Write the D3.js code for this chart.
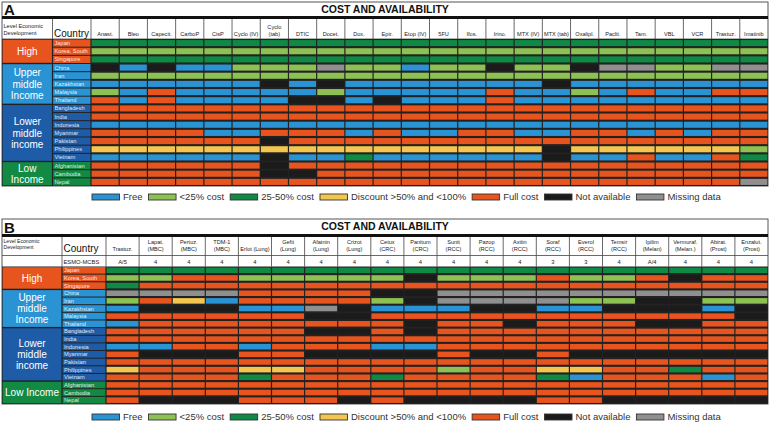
<!DOCTYPE html>
<html><head><meta charset="utf-8">
<script src="https://cdn.jsdelivr.net/npm/d3@7"></script>
<style>body{margin:0;background:#fff}svg{display:block}text{font-family:"Liberation Sans",Arial,sans-serif}</style>
</head><body><svg id="c" width="770" height="422"></svg>
<script>
const countries = ["Japan","Korea, South","Singapore","China","Iran","Kazakhstan","Malaysia","Thailand","Bangladesh","India","Indonesia","Myanmar","Pakistan","Philippines","Vietnam","Afghanistan","Cambodia","Nepal"];
const levelSizes = [3,5,7,3];
const levelNamesA = [["High"],["Upper","middle","Income"],["Lower","middle","income"],["Low","Income"]];
const levelNamesB = [["High"],["Upper","middle","Income"],["Lower","middle","income"],["Low Income"]];
const drugsA = [["Anast."],["Bleo"],["Capecit."],["CarboP"],["CisP"],["Cyclo (IV)"],["Cyclo","(tab)"],["DTIC"],["Docet."],["Dox."],["Epir."],["Etop (IV)"],["5FU"],["Ifos."],["Irino."],["MTX (IV)"],["MTX (tab)"],["Oxalipl."],["Paclit."],["Tam."],["VBL"],["VCR"],["Trastuz."],["Imatinib"]];
// F free, L <25%, D 25-50%, Y discount, C full cost, N not available, M missing
const statusA = [
"DDDDDDDDDDDDDDDDDDDDDDDD",
"LLLLLLLLLLLLLLLLLLLLLLLL",
"DDDDDDDDDDDDDDDDDDDDDDDD",
"NFNFFLLLMLLFLLNLLNMMLLMM",
"LLLLLLLLLLLLLLLLLLLLLLLL",
"FFFFFFNFNFFFFFFFNFFFFFFF",
"LFCFFFFFLFFFFFCFFLFCFFCC",
"CFCFFFFNNFNFFFCFFFFFFFFF",
"CCCCCCCCCCCCCCCCCCCCCCCC",
"CCCCCCCCCCCCCCCCCCCCCCCC",
"FFFFFFFFFFFFFFFFFFFFFFFF",
"CCCCFFCCCFCFFCCFFCCFCFCC",
"CCCCCCNCCCCCCCCCCCCCCCCC",
"YYYYYYYYYYYYYYYYNYYYYYYL",
"FFFFFFNFFDFFFFFFNFFCFFCD",
"CCCCCCNCCCCCCCCCCCCCCCCC",
"CCCCCCNNCCCCCCCCCCCCCCCC",
"CCCCCCCCCCCCCCCCCCCCCCCM"];
const drugsB = [["Trastuz."],["Lapat.","(MBC)"],["Pertuz.","(MBC)"],["TDM-1","(MBC)"],["Erlot (Lung)"],["Gefit","(Lung)"],["Afatnin","(Lung)"],["Crizot","(Lung)"],["Cetux","(CRC)"],["Panitum","(CRC)"],["Sunit","(RCC)"],["Pazop","(RCC)"],["Axitin","(RCC)"],["Soraf","(RCC)"],["Everol","(RCC)"],["Temsir","(RCC)"],["Ipilim","(Melan)"],["Vermuraf.","(Melan.)"],["Abirat.","(Prost)"],["Enzalut.","(Prost)"]];
const esmoB = ["A/5","4","4","4","4","4","4","4","4","4","4","4","4","3","3","4","A/4","4","4","4"];
const statusB = [
"DDDDDDDDDDDDDDDDDDDD",
"LLCCLLLLLNLLLCLLCNCC",
"DCCCCCCCCCCCCCCCCCCC",
"MMMMCCCCNNMMMMMMMMMM",
"LCYFCCCCLNMMMMLLNNLL",
"FNNNFFMNFFFNNFFNNNFN",
"CCCCCCNNCCCCCCCCCCCN",
"FCCCCCCCCNCCNCCCNNCC",
"CCCCCCNNCNCCCCCCCCCC",
"CCCCCCCCCCCCCCCCCCCC",
"FFCCFCCCFFCCCCCCCCCC",
"CNNNCCNNNNCNNCNNNNNN",
"CCCCCCCCCCCCCCCCCCCC",
"YCCCYYCCCCLCCYYCCDCC",
"CCCCDCCCDCCCCDFCCCFC",
"CCCCCCCCCCCCCCCCCCCC",
"CCCCCCCCCCCCCCCCCCCC",
"CNNNCCCNCNNNNCCNNNNN"];
const legendCodes = ["F","L","D","Y","C","N","M"];
const legendLabels = ["Free","<25% cost","25-50% cost","Discount >50% and <100%","Full cost","Not available","Missing data"];

const colors = {F:"#2a93d3",L:"#8dc153",D:"#0f8a44",Y:"#f5c64f",C:"#e8541e",N:"#1b1b1b",M:"#8f8f8f"};
const groupColors = ["#e8541e","#2a93d3","#1f5ca8","#138a43"];
const groupOf = [];
levelSizes.forEach((n,gi)=>{for(let k=0;k<n;k++)groupOf.push(gi);});

const svg = d3.select("#c");

function drawPanel(cfg){
  const g = svg.append("g");
  const x = d3.scaleBand().domain(cfg.drugs.map((d,i)=>i)).range([cfg.gridX0,768]);
  const y = d3.scaleBand().domain(countries).range([cfg.rowsTop,cfg.rowsBottom]);
  g.append("rect").attr("x",2).attr("y",cfg.top).attr("width",766).attr("height",cfg.rowsBottom-cfg.top)
    .attr("fill","#fff").attr("stroke","#555").attr("stroke-width",1);
  g.append("rect").attr("x",2).attr("y",cfg.bandY).attr("width",766).attr("height",3).attr("fill","#111");
  g.append("text").attr("x",4).attr("y",cfg.bandY-1).attr("font-size",15).attr("font-weight","bold").attr("fill","#111").text(cfg.letter);
  g.append("text").attr("x",385).attr("y",cfg.top+11).attr("text-anchor","middle").attr("font-size",10.5).attr("font-weight","bold").attr("fill","#111").text("COST AND AVAILABILITY");
  const hTop = cfg.bandY+3, hBot = cfg.rowsTop;
  const vx = [cfg.countryX0, ...x.domain().map(i=>x(i))];
  g.selectAll(null).data(vx).join("line").attr("x1",d=>d).attr("x2",d=>d).attr("y1",hTop).attr("y2",hBot)
    .attr("stroke","#444").attr("stroke-width",0.8);
  g.append("line").attr("x1",2).attr("x2",768).attr("y1",cfg.headerBottom).attr("y2",cfg.headerBottom).attr("stroke","#444").attr("stroke-width",0.8);
  g.selectAll(null).data(cfg.levLines).join("text").attr("x",3.5).attr("y",(d,i)=>cfg.levY+i*cfg.levDy)
    .attr("font-size",cfg.levFs).attr("fill","#222").text(d=>d);
  g.append("text").attr("x",cfg.countryX0+1.5).attr("y",cfg.countryY).attr("font-size",10).attr("fill","#111").text("Country");
  cfg.drugs.forEach((lines,i)=>{
    const cx = x(i)+x.bandwidth()/2;
    lines.forEach((t,k)=>{
      const yy = lines.length===1 ? cfg.drugY2 : (k===0?cfg.drugY1:cfg.drugY2);
      g.append("text").attr("x",cx).attr("y",yy).attr("text-anchor","middle").attr("font-size",5.6).attr("fill","#222").text(t);
    });
  });
  if(cfg.esmo){
    g.append("text").attr("x",cfg.countryX0+1.5).attr("y",cfg.esmoY).attr("font-size",5.8).attr("fill","#222").text("ESMO-MCBS");
    g.selectAll(null).data(cfg.esmo).join("text").attr("x",(d,i)=>x(i)+x.bandwidth()/2).attr("y",cfg.esmoY)
      .attr("text-anchor","middle").attr("font-size",5.8).attr("fill","#222").text(d=>d);
  }
  g.append("rect").attr("x",2).attr("y",cfg.rowsTop).attr("width",766).attr("height",cfg.rowsBottom-cfg.rowsTop).attr("fill","#222");
  let start=0;
  levelSizes.forEach((n,gi)=>{
    const y0=y(countries[start]), y1=y(countries[start+n-1])+y.bandwidth();
    g.append("rect").attr("x",2.6).attr("y",y0+0.7).attr("width",cfg.countryX0-2.6-0.6).attr("height",y1-y0-1.4).attr("fill",groupColors[gi]);
    const lines = cfg.levelNames[gi];
    const cy=(y0+y1)/2, lh=11.2;
    lines.forEach((t,k)=>{
      g.append("text").attr("x",(2+cfg.countryX0)/2).attr("y",cy+(k-(lines.length-1)/2)*lh+3.6)
       .attr("text-anchor","middle").attr("font-size",10).attr("fill","#fff").text(t);
    });
    start+=n;
  });
  countries.forEach((c,ri)=>{
    g.append("rect").attr("x",cfg.countryX0+0.6).attr("y",y(c)+0.5).attr("width",cfg.gridX0-cfg.countryX0-1.2).attr("height",y.bandwidth()-1)
     .attr("fill",groupColors[groupOf[ri]]);
    g.append("text").attr("x",cfg.countryX0+2).attr("y",y(c)+y.bandwidth()/2+2.0).attr("font-size",5.7)
     .attr("fill","#fff").attr("fill-opacity",0.88).text(c);
  });
  cfg.status.forEach((row,ri)=>{
    row.split("").forEach((s,ci)=>{
      g.append("rect").attr("x",x(ci)+0.6).attr("y",y(countries[ri])+1.05).attr("width",x.bandwidth()-1.2).attr("height",y.bandwidth()-2.1)
       .attr("fill",colors[s]);
    });
  });
  let lx=92;
  legendCodes.forEach((code,i)=>{
    g.append("rect").attr("x",lx).attr("y",cfg.legendY-3).attr("width",27.5).attr("height",6).attr("fill",colors[code]).attr("stroke","#333").attr("stroke-width",0.9);
    const t=g.append("text").attr("x",lx+31).attr("y",cfg.legendY+3.4).attr("font-size",9.5).attr("fill","#333").text(legendLabels[i]);
    lx += 31 + t.node().getComputedTextLength() + 6;
  });
}

drawPanel({letter:"A",top:2,bandY:16,headerBottom:39,rowsTop:39,rowsBottom:186,countryX0:52.5,gridX0:91,
  drugs:drugsA,status:statusA,levelNames:levelNamesA,levLines:["Level Economic","Development"],levY:28,levDy:6.5,levFs:5.6,
  countryY:36.5,drugY1:28.5,drugY2:35.5,legendY:197});
drawPanel({letter:"B",top:219,bandY:234,headerBottom:255.5,rowsTop:266.5,rowsBottom:404,countryX0:62,gridX0:106,
  drugs:drugsB,status:statusB,levelNames:levelNamesB,levLines:["Level Economic","Development"],levY:243,levDy:6,levFs:5.1,
  countryY:252,drugY1:244,drugY2:250.8,esmo:esmoB,esmoY:263.5,legendY:417});
</script></body></html>
